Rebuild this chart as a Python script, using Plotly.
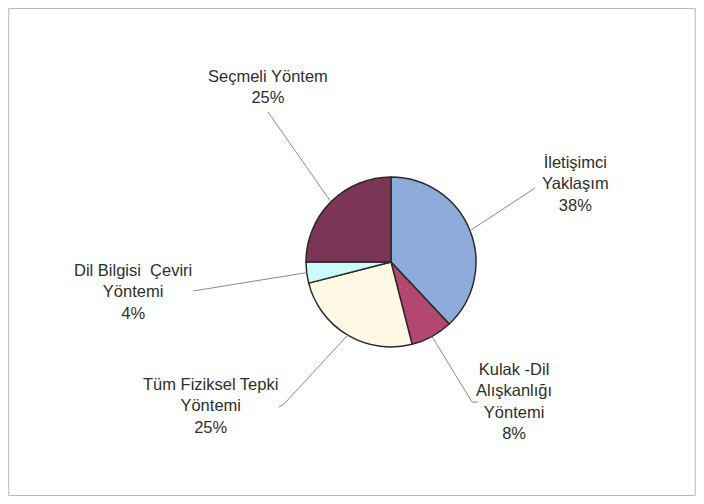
import math
import plotly.graph_objects as go

labels = ["İletişimci Yaklaşım", "Kulak -Dil Alışkanlığı Yöntemi", "Tüm Fiziksel Tepki Yöntemi",
          "Dil Bilgisi  Çeviri Yöntemi", "Seçmeli Yöntem"]
values = [38, 8, 25, 4, 25]
label_text = ["İletişimci<br>Yaklaşım<br>38%", "Kulak -Dil<br>Alışkanlığı<br>Yöntemi<br>8%",
              "Tüm Fiziksel Tepki<br>Yöntemi<br>25%", "Dil Bilgisi  Çeviri<br>Yöntemi<br>4%",
              "Seçmeli Yöntem<br>25%"]
colors = ["#8DACDC", "#B4476F", "#FFF8E4", "#CDFBFB", "#7B3556"]

# page shows the figure offset by the body margin
OFF = 8
W, H = 704 - 2 * OFF, 504 - 2 * OFF
cx, cy, r = 391, 262, 85          # screen px
label_pos = [(575, 184), (514, 401), (210, 405), (133, 291), (268, 86)]
line_end = [(535, 188), (472, 402), (284, 404), (193, 291), (268, 112)]

def px(x, y):
    return (x - OFF) / W, 1 - (y - OFF) / H

fig = go.Figure()
dx0, dy1 = px(cx - r, cy - r)
dx1, dy0 = px(cx + r, cy + r)
fig.add_trace(go.Pie(
    labels=labels, values=values, sort=False, direction="clockwise", rotation=0,
    marker=dict(colors=colors, line=dict(color="#2a2a2a", width=1.5)),
    textinfo="none", hoverinfo="label+percent", showlegend=False,
    domain=dict(x=[dx0, dx1], y=[dy0, dy1]),
))

shapes = []
total = sum(values)
cum = 0
for i, v in enumerate(values):
    mid = (cum + v / 2) / total * 2 * math.pi
    cum += v
    sx = cx + r * math.sin(mid)
    sy = cy - r * math.cos(mid)
    ex, ey = line_end[i]
    x0, y0 = px(sx, sy)
    x1, y1 = px(ex, ey)
    shapes.append(dict(type="line", xref="paper", yref="paper", x0=x0, y0=y0, x1=x1, y1=y1,
                       line=dict(color="#8a8a8a", width=1)))
for (a, b) in [((472, 402), (478, 402)), ((284, 404), (279, 407))]:
    hx0, hy0 = px(*a)
    hx1, hy1 = px(*b)
    shapes.append(dict(type="line", xref="paper", yref="paper", x0=hx0, y0=hy0, x1=hx1, y1=hy1,
                       line=dict(color="#8a8a8a", width=1)))
# frame
shapes.append(dict(type="rect", xref="paper", yref="paper", x0=0.001, y0=0.001, x1=0.999, y1=0.999,
                   line=dict(color="#b8b8b8", width=1)))

annotations = []
for t, (lx, ly) in zip(label_text, label_pos):
    ax, ay = px(lx, ly)
    annotations.append(dict(text=t, x=ax, y=ay, xref="paper", yref="paper", showarrow=False,
                            xanchor="center", yanchor="middle", align="center",
                            font=dict(family="Liberation Sans, Arial, sans-serif", size=16.5, color="#2e2e2e")))

fig.update_layout(width=W, height=H, margin=dict(l=0, r=0, t=0, b=0),
                  paper_bgcolor="white", plot_bgcolor="white",
                  shapes=shapes, annotations=annotations)
fig.write_html("out.html")
